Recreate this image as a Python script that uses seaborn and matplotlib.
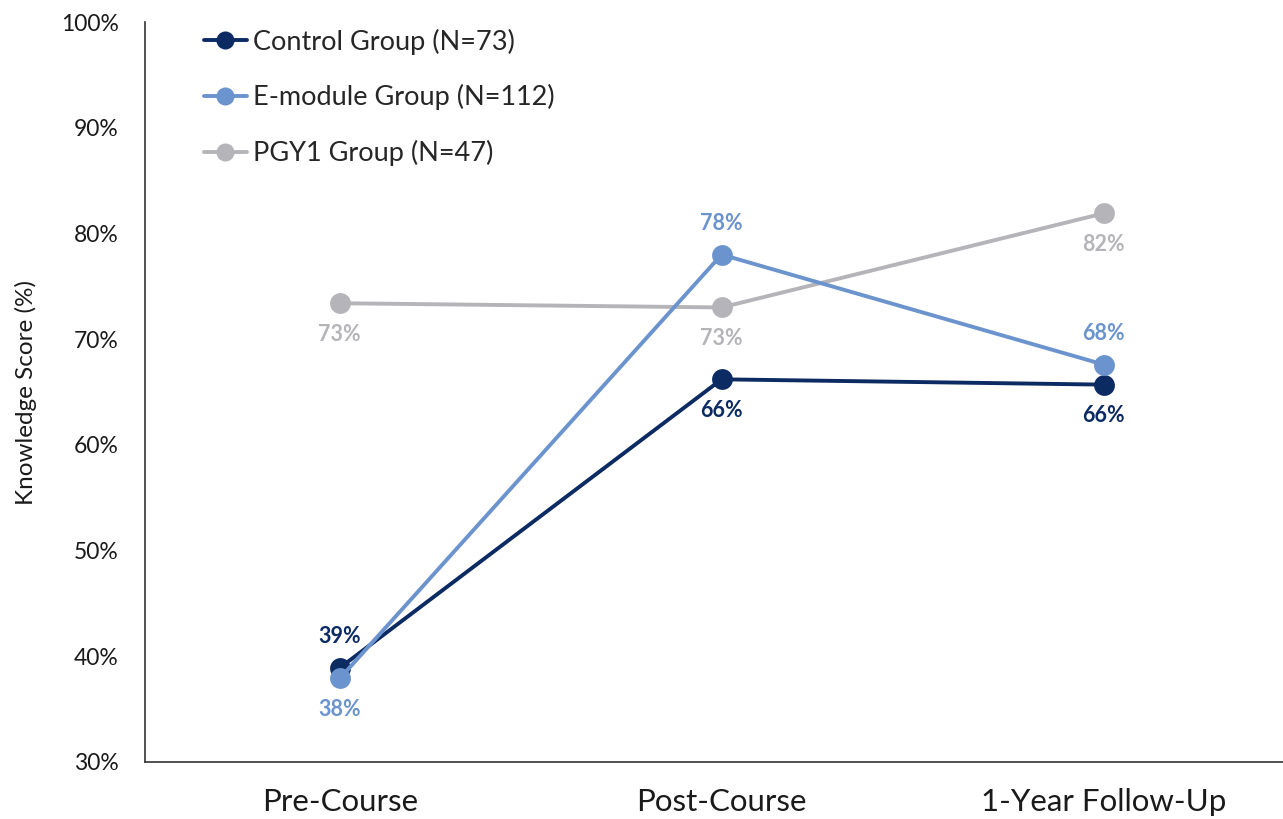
import matplotlib
matplotlib.use("Agg")
import matplotlib.pyplot as plt
from matplotlib.lines import Line2D
import seaborn as sns
import pandas as pd

# Knowledge scores (%) per group at each time point
timepoints = ["Pre-Course", "Post-Course", "1-Year Follow-Up"]
groups = ["PGY1 Group (N=47)", "Control Group (N=73)", "E-module Group (N=112)"]
pgy1_scores = [73.4, 73.0, 81.9]
control_scores = [38.9, 66.2, 65.7]
emodule_scores = [37.9, 78.0, 67.6]

colors = {
    "Control Group (N=73)": "#0D2B63",
    "E-module Group (N=112)": "#6B93CD",
    "PGY1 Group (N=47)": "#B5B5B9",
}
# label placement: +1 above the point, -1 below
label_side = {
    "Control Group (N=73)": [1, -1, -1],
    "E-module Group (N=112)": [-1, 1, 1],
    "PGY1 Group (N=47)": [-1, -1, -1],
}

series = dict(zip(groups, [pgy1_scores, control_scores, emodule_scores]))
rows = []
for g, vals in series.items():
    for i, (t, v) in enumerate(zip(timepoints, vals)):
        rows.append({"group": g, "time": t, "pos": i, "score": v})
df = pd.DataFrame(rows)

sns.set_theme(style="white")
plt.rcParams["font.family"] = ["Lato", "DejaVu Sans"]

fig = plt.figure(figsize=(12.83, 8.19), dpi=100)
ax = fig.add_axes([0.113, 0.0696, 0.887, 0.9035])

for g in groups:
    sub = df[df["group"] == g]
    sns.lineplot(data=sub, x="pos", y="score", color=colors[g], marker="o",
                 markersize=15, markeredgewidth=0, linewidth=2.8, ax=ax,
                 legend=False, sort=False)
    for _, r in sub.iterrows():
        side = label_side[g][r["pos"]]
        ax.annotate(f"{r['score']:.0f}%", (r["pos"], r["score"]),
                    xytext=(0, 22.5 * side), textcoords="offset points",
                    ha="center", va="center", fontsize=15.5, fontweight="bold",
                    color=colors[g])

ax.set_xlim(-0.51, 2.47)
ax.set_ylim(30, 100)
ax.set_xticks(range(len(timepoints)))
ax.set_xticklabels(timepoints, fontsize=22.5)
ax.set_yticks(range(30, 101, 10))
ax.set_yticklabels([f"{v}%" for v in range(30, 101, 10)], fontsize=16.5)
ax.tick_params(axis="both", length=0, colors="#1a1a1a")
ax.tick_params(axis="x", pad=19)
ax.tick_params(axis="y", pad=19)
ax.set_xlabel("")
ax.set_ylabel("Knowledge Score (%)", fontsize=17.5, labelpad=17, color="#1a1a1a")

for s in ["top", "right"]:
    ax.spines[s].set_visible(False)
for s in ["left", "bottom"]:
    ax.spines[s].set_color("#333333")
    ax.spines[s].set_linewidth(1.2)

legend_order = ["Control Group (N=73)", "E-module Group (N=112)", "PGY1 Group (N=47)"]
handles = [Line2D([0], [0], color=colors[g], marker="o", markersize=13,
                  markeredgewidth=0, linewidth=2.8) for g in legend_order]
ax.legend(handles, legend_order, loc="upper left", bbox_to_anchor=(0.035, 1.017),
          frameon=False, fontsize=19.5, handlelength=1.6, handletextpad=0.2,
          labelspacing=1.1, borderaxespad=0.3)

fig.savefig("out.png", dpi=100)
